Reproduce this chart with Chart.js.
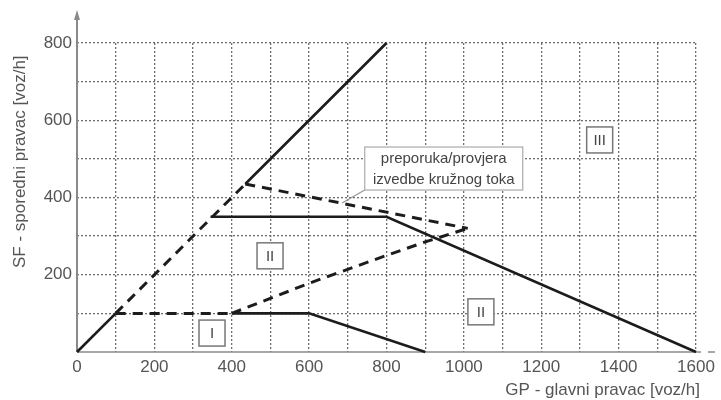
<!DOCTYPE html>
<html lang="hr">
<head>
  <meta charset="UTF-8">
  <title>Kružni tok - područja primjene</title>
  <script src="https://cdn.jsdelivr.net/npm/chart.js"></script>
  <style>
    html, body { margin: 0; padding: 0; background: #fff; }
    #wrap { width: 721px; height: 400px; position: relative; }
  </style>
</head>
<body>
  <div id="wrap"><canvas id="chart"></canvas></div>

  <script>
    // GP (x) and SF (y) values, voz/h
    const originX = [0, 100];
    const originY = [0, 100];
    const diagDashX = [100, 435];
    const diagDashY = [100, 435];
    const diagSolidX = [435, 800];
    const diagSolidY = [435, 800];
    const upperDashX = [435, 1010];
    const upperDashY = [435, 320];
    const zoneTwoX = [345, 800, 1600];
    const zoneTwoY = [350, 350, 0];
    const lowDashX = [100, 400];
    const lowDashY = [100, 100];
    const zoneOneX = [400, 600, 900];
    const zoneOneY = [100, 100, 0];
    const riseDashX = [400, 600, 800, 900, 1010];
    const riseDashY = [100, 178, 250, 285, 320];

    const xTickLabels = ['0', '200', '400', '600', '800', '1000', '1200', '1400', '1600'];
    const yTickLabels = ['200', '400', '600', '800'];

    const zoneNames = ['I', 'II', 'II', 'III'];
    const zoneAtX = [349, 499, 1044, 1351];
    const zoneAtY = [49, 249, 104, 549];

    const calloutLines = ['preporuka/provjera', 'izvedbe kružnog toka'];

    const FONT = '"Liberation Sans", Arial, sans-serif';
    const TEXT = '#555';

    function pts(xs, ys) {
      return xs.map(function (x, i) { return { x: x, y: ys[i] }; });
    }

    function line(xs, ys, dashed) {
      return {
        data: pts(xs, ys),
        borderColor: '#1c1c1c',
        borderWidth: dashed ? 3 : 2.6,
        borderDash: dashed ? [10, 7] : [],
        pointRadius: 0,
        tension: 0,
        fill: false,
        clip: false
      };
    }

    const decor = {
      id: 'decor',
      beforeDatasetsDraw(chart) {
        const { ctx, chartArea: a } = chart;
        ctx.save();
        ctx.strokeStyle = '#8a8a8a';
        ctx.fillStyle = '#8a8a8a';
        ctx.lineWidth = 2;
        // y axis with arrow
        ctx.beginPath();
        ctx.moveTo(a.left, a.bottom);
        ctx.lineTo(a.left, 16);
        ctx.stroke();
        ctx.beginPath();
        ctx.moveTo(a.left, 10);
        ctx.lineTo(a.left - 3, 20);
        ctx.lineTo(a.left + 3, 20);
        ctx.closePath();
        ctx.fill();
        // x axis
        ctx.lineWidth = 1.5;
        ctx.beginPath();
        ctx.moveTo(a.left, a.bottom);
        ctx.lineTo(a.right + 5, a.bottom);
        ctx.moveTo(a.right + 12, a.bottom);
        ctx.lineTo(a.right + 19, a.bottom);
        ctx.stroke();
        ctx.restore();
      },
      afterDraw(chart) {
        const { ctx } = chart;
        const xs = chart.scales.x, ys = chart.scales.y;
        ctx.save();
        ctx.fillStyle = TEXT;

        // axis titles
        ctx.font = '17px ' + FONT;
        ctx.textBaseline = 'middle';
        ctx.textAlign = 'right';
        ctx.fillText('GP - glavni pravac [voz/h]', 700, 390);
        ctx.save();
        ctx.translate(20, 268);
        ctx.rotate(-Math.PI / 2);
        ctx.textAlign = 'left';
        ctx.fillText('SF - sporedni pravac [voz/h]', 0, 0);
        ctx.restore();

        // zone boxes
        ctx.font = '15px ' + FONT;
        ctx.textAlign = 'center';
        zoneNames.forEach(function (name, i) {
          const cx = xs.getPixelForValue(zoneAtX[i]);
          const cy = ys.getPixelForValue(zoneAtY[i]);
          ctx.fillStyle = '#fff';
          ctx.fillRect(cx - 13, cy - 13, 26, 26);
          ctx.strokeStyle = '#777';
          ctx.lineWidth = 1.5;
          ctx.strokeRect(cx - 13, cy - 13, 26, 26);
          ctx.fillStyle = '#444';
          ctx.fillText(name, cx, cy + 1);
        });

        // callout
        const bx = xs.getPixelForValue(948), by = ys.getPixelForValue(475);
        const w = 158, h = 43;
        ctx.strokeStyle = '#999';
        ctx.lineWidth = 1.2;
        ctx.beginPath();
        ctx.moveTo(bx - w / 2, by + h / 2);
        ctx.lineTo(xs.getPixelForValue(685), ys.getPixelForValue(386));
        ctx.stroke();
        ctx.fillStyle = '#fff';
        ctx.fillRect(bx - w / 2, by - h / 2, w, h);
        ctx.strokeStyle = '#aaa';
        ctx.strokeRect(bx - w / 2, by - h / 2, w, h);
        ctx.fillStyle = '#444';
        ctx.fillText(calloutLines[0], bx, by - 10);
        ctx.fillText(calloutLines[1], bx, by + 11);
        ctx.restore();
      }
    };

    function gridColor(c) {
      return c.tick && c.tick.value === 0 ? 'rgba(0,0,0,0)' : '#6e6e6e';
    }

    new Chart(document.getElementById('chart'), {
      type: 'line',
      data: {
        datasets: [
          line(originX, originY, false),
          line(diagDashX, diagDashY, true),
          line(diagSolidX, diagSolidY, false),
          line(upperDashX, upperDashY, true),
          line(zoneTwoX, zoneTwoY, false),
          line(lowDashX, lowDashY, true),
          line(zoneOneX, zoneOneY, false),
          line(riseDashX, riseDashY, true)
        ]
      },
      options: {
        responsive: true,
        maintainAspectRatio: false,
        animation: false,
        layout: { padding: { top: 43, right: 25, left: 0, bottom: 0 } },
        plugins: { legend: { display: false }, tooltip: { enabled: false } },
        scales: {
          x: {
            type: 'linear',
            min: 0,
            max: 1600,
            afterFit(s) { s.height = 48; },
            ticks: {
              stepSize: 100,
              autoSkip: false,
              maxRotation: 0,
              padding: 5,
              color: TEXT,
              font: { family: FONT, size: 17 },
              callback(v) { return xTickLabels.includes(String(v)) ? String(v) : ''; }
            },
            grid: { color: gridColor, lineWidth: 1.3, drawTicks: false },
            border: { display: false, dash: [2, 2] }
          },
          y: {
            min: 0,
            max: 800,
            afterFit(s) { s.width = 77; },
            ticks: {
              stepSize: 100,
              autoSkip: false,
              padding: 5,
              color: TEXT,
              font: { family: FONT, size: 17 },
              callback(v) { return yTickLabels.includes(String(v)) ? String(v) : ''; }
            },
            grid: { color: gridColor, lineWidth: 1.3, drawTicks: false },
            border: { display: false, dash: [2, 2] }
          }
        }
      },
      plugins: [decor]
    });
  </script>
</body>
</html>
